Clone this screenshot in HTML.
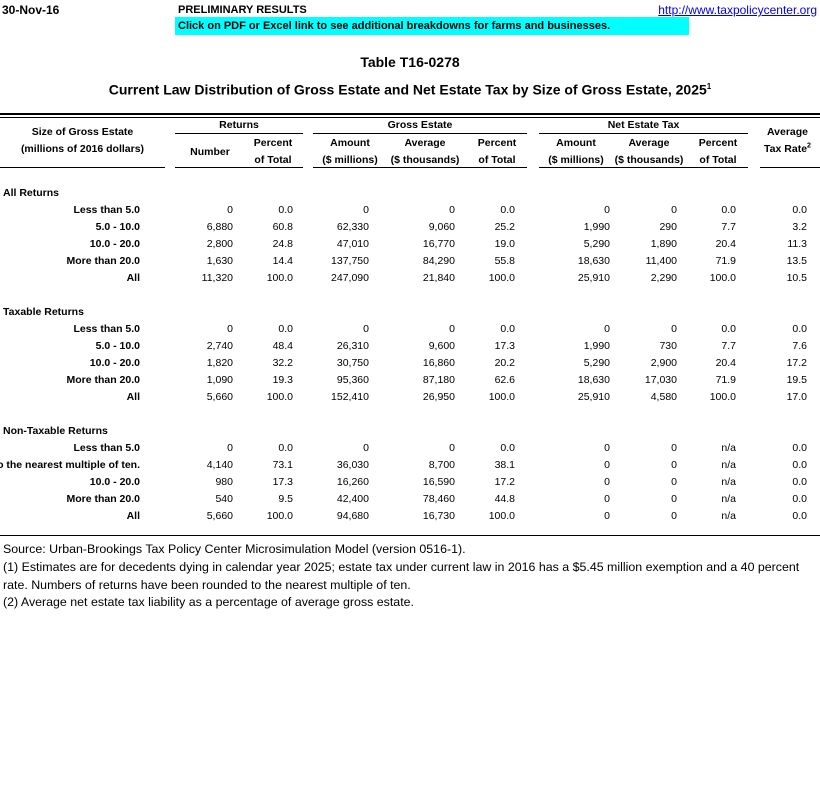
<!DOCTYPE html>
<html><head><meta charset="utf-8"><style>
body{margin:0;width:820px;height:791px;background:#fff;position:relative;font-family:"Liberation Sans",sans-serif;color:#000;overflow:hidden}
.t{position:absolute;white-space:nowrap;line-height:14px}
.b{font-weight:bold}
.r{position:absolute;white-space:nowrap;text-align:right;width:200px;line-height:14px}
.h{position:absolute;height:1px;background:#000}
.row{position:absolute;left:0;width:820px;height:14px;font-size:10.5px}
.row .r{top:0}
.lab{font-weight:bold}
.ch{position:absolute;text-align:center;font-weight:bold;font-size:10.5px;line-height:17px;white-space:nowrap}
.fn{position:absolute;white-space:nowrap;left:3px;font-size:12.4px;line-height:14px}
</style></head><body>
<div class="t b" style="left:2px;top:3px;font-size:12px">30-Nov-16</div>
<div class="t b" style="left:178px;top:3px;font-size:11px">PRELIMINARY RESULTS</div>
<div class="t" style="right:3px;top:3px;font-size:12px;color:#0000ee;text-decoration:underline">http://www.taxpolicycenter.org</div>
<div style="position:absolute;left:175px;top:17px;width:514px;height:18px;background:#00ffff"></div>
<div class="t b" style="left:178px;top:19px;font-size:11px">Click on PDF or Excel link to see additional breakdowns for farms and businesses.</div>
<div class="t b" style="left:0;width:820px;text-align:center;top:55px;font-size:14px">Table T16-0278</div>
<div class="t b" style="left:0;width:820px;text-align:center;top:80px;font-size:14px">Current Law Distribution of Gross Estate and Net Estate Tax by Size of Gross Estate, 2025<sup style="font-size:8px">1</sup></div>

<div class="h" style="left:0;width:820px;top:113px;height:2px"></div>
<div class="h" style="left:0;width:820px;top:117px"></div>

<div class="ch" style="left:0;width:165px;top:124px">Size of Gross Estate<br>(millions of 2016 dollars)</div>
<div class="ch" style="left:175px;width:128px;top:117px">Returns</div>
<div class="ch" style="left:313px;width:214px;top:117px">Gross Estate</div>
<div class="ch" style="left:539px;width:209px;top:117px">Net Estate Tax</div>
<div class="ch" style="left:755px;width:65px;top:124px">Average<br>Tax Rate<sup style="font-size:7px;line-height:0">2</sup></div>
<div class="h" style="left:175px;width:128px;top:133px"></div>
<div class="h" style="left:313px;width:214px;top:133px"></div>
<div class="h" style="left:539px;width:209px;top:133px"></div>
<div class="ch" style="left:175px;width:70px;top:144px">Number</div>
<div class="ch" style="left:243px;width:60px;top:135px">Percent<br>of Total</div>
<div class="ch" style="left:313px;width:74px;top:135px">Amount<br>($ millions)</div>
<div class="ch" style="left:385px;width:80px;top:135px">Average<br>($ thousands)</div>
<div class="ch" style="left:467px;width:60px;top:135px">Percent<br>of Total</div>
<div class="ch" style="left:539px;width:74px;top:135px">Amount<br>($ millions)</div>
<div class="ch" style="left:609px;width:80px;top:135px">Average<br>($ thousands)</div>
<div class="ch" style="left:688px;width:60px;top:135px">Percent<br>of Total</div>
<div class="h" style="left:0;width:165px;top:167px"></div>
<div class="h" style="left:175px;width:128px;top:167px"></div>
<div class="h" style="left:313px;width:214px;top:167px"></div>
<div class="h" style="left:539px;width:209px;top:167px"></div>
<div class="h" style="left:760px;width:60px;top:167px"></div>

<div class="t b" style="left:3px;top:186px;font-size:10.5px">All Returns</div>
<div class="t b" style="left:3px;top:305px;font-size:10.5px">Taxable Returns</div>
<div class="t b" style="left:3px;top:424px;font-size:10.5px">Non-Taxable Returns</div>

<div class="row" style="top:203px"><span class="r lab" style="right:680px">Less than 5.0</span><span class="r" style="right:587px">0</span><span class="r" style="right:527px">0.0</span><span class="r" style="right:451px">0</span><span class="r" style="right:365px">0</span><span class="r" style="right:305px">0.0</span><span class="r" style="right:210px">0</span><span class="r" style="right:143px">0</span><span class="r" style="right:84px">0.0</span><span class="r" style="right:13px">0.0</span></div>
<div class="row" style="top:220px"><span class="r lab" style="right:680px">5.0 - 10.0</span><span class="r" style="right:587px">6,880</span><span class="r" style="right:527px">60.8</span><span class="r" style="right:451px">62,330</span><span class="r" style="right:365px">9,060</span><span class="r" style="right:305px">25.2</span><span class="r" style="right:210px">1,990</span><span class="r" style="right:143px">290</span><span class="r" style="right:84px">7.7</span><span class="r" style="right:13px">3.2</span></div>
<div class="row" style="top:237px"><span class="r lab" style="right:680px">10.0 - 20.0</span><span class="r" style="right:587px">2,800</span><span class="r" style="right:527px">24.8</span><span class="r" style="right:451px">47,010</span><span class="r" style="right:365px">16,770</span><span class="r" style="right:305px">19.0</span><span class="r" style="right:210px">5,290</span><span class="r" style="right:143px">1,890</span><span class="r" style="right:84px">20.4</span><span class="r" style="right:13px">11.3</span></div>
<div class="row" style="top:254px"><span class="r lab" style="right:680px">More than 20.0</span><span class="r" style="right:587px">1,630</span><span class="r" style="right:527px">14.4</span><span class="r" style="right:451px">137,750</span><span class="r" style="right:365px">84,290</span><span class="r" style="right:305px">55.8</span><span class="r" style="right:210px">18,630</span><span class="r" style="right:143px">11,400</span><span class="r" style="right:84px">71.9</span><span class="r" style="right:13px">13.5</span></div>
<div class="row" style="top:271px"><span class="r lab" style="right:680px">All</span><span class="r" style="right:587px">11,320</span><span class="r" style="right:527px">100.0</span><span class="r" style="right:451px">247,090</span><span class="r" style="right:365px">21,840</span><span class="r" style="right:305px">100.0</span><span class="r" style="right:210px">25,910</span><span class="r" style="right:143px">2,290</span><span class="r" style="right:84px">100.0</span><span class="r" style="right:13px">10.5</span></div>

<div class="row" style="top:322px"><span class="r lab" style="right:680px">Less than 5.0</span><span class="r" style="right:587px">0</span><span class="r" style="right:527px">0.0</span><span class="r" style="right:451px">0</span><span class="r" style="right:365px">0</span><span class="r" style="right:305px">0.0</span><span class="r" style="right:210px">0</span><span class="r" style="right:143px">0</span><span class="r" style="right:84px">0.0</span><span class="r" style="right:13px">0.0</span></div>
<div class="row" style="top:339px"><span class="r lab" style="right:680px">5.0 - 10.0</span><span class="r" style="right:587px">2,740</span><span class="r" style="right:527px">48.4</span><span class="r" style="right:451px">26,310</span><span class="r" style="right:365px">9,600</span><span class="r" style="right:305px">17.3</span><span class="r" style="right:210px">1,990</span><span class="r" style="right:143px">730</span><span class="r" style="right:84px">7.7</span><span class="r" style="right:13px">7.6</span></div>
<div class="row" style="top:356px"><span class="r lab" style="right:680px">10.0 - 20.0</span><span class="r" style="right:587px">1,820</span><span class="r" style="right:527px">32.2</span><span class="r" style="right:451px">30,750</span><span class="r" style="right:365px">16,860</span><span class="r" style="right:305px">20.2</span><span class="r" style="right:210px">5,290</span><span class="r" style="right:143px">2,900</span><span class="r" style="right:84px">20.4</span><span class="r" style="right:13px">17.2</span></div>
<div class="row" style="top:373px"><span class="r lab" style="right:680px">More than 20.0</span><span class="r" style="right:587px">1,090</span><span class="r" style="right:527px">19.3</span><span class="r" style="right:451px">95,360</span><span class="r" style="right:365px">87,180</span><span class="r" style="right:305px">62.6</span><span class="r" style="right:210px">18,630</span><span class="r" style="right:143px">17,030</span><span class="r" style="right:84px">71.9</span><span class="r" style="right:13px">19.5</span></div>
<div class="row" style="top:390px"><span class="r lab" style="right:680px">All</span><span class="r" style="right:587px">5,660</span><span class="r" style="right:527px">100.0</span><span class="r" style="right:451px">152,410</span><span class="r" style="right:365px">26,950</span><span class="r" style="right:305px">100.0</span><span class="r" style="right:210px">25,910</span><span class="r" style="right:143px">4,580</span><span class="r" style="right:84px">100.0</span><span class="r" style="right:13px">17.0</span></div>

<div class="row" style="top:441px"><span class="r lab" style="right:680px">Less than 5.0</span><span class="r" style="right:587px">0</span><span class="r" style="right:527px">0.0</span><span class="r" style="right:451px">0</span><span class="r" style="right:365px">0</span><span class="r" style="right:305px">0.0</span><span class="r" style="right:210px">0</span><span class="r" style="right:143px">0</span><span class="r" style="right:84px">n/a</span><span class="r" style="right:13px">0.0</span></div>
<div class="row" style="top:458px"><span class="lab" style="position:absolute;right:680px;width:140px;height:14px;overflow:hidden"><span style="position:absolute;right:0;top:0;white-space:nowrap;line-height:14px">Numbers of returns have been rounded to the nearest multiple of ten.</span></span><span class="r" style="right:587px">4,140</span><span class="r" style="right:527px">73.1</span><span class="r" style="right:451px">36,030</span><span class="r" style="right:365px">8,700</span><span class="r" style="right:305px">38.1</span><span class="r" style="right:210px">0</span><span class="r" style="right:143px">0</span><span class="r" style="right:84px">n/a</span><span class="r" style="right:13px">0.0</span></div>
<div class="row" style="top:475px"><span class="r lab" style="right:680px">10.0 - 20.0</span><span class="r" style="right:587px">980</span><span class="r" style="right:527px">17.3</span><span class="r" style="right:451px">16,260</span><span class="r" style="right:365px">16,590</span><span class="r" style="right:305px">17.2</span><span class="r" style="right:210px">0</span><span class="r" style="right:143px">0</span><span class="r" style="right:84px">n/a</span><span class="r" style="right:13px">0.0</span></div>
<div class="row" style="top:492px"><span class="r lab" style="right:680px">More than 20.0</span><span class="r" style="right:587px">540</span><span class="r" style="right:527px">9.5</span><span class="r" style="right:451px">42,400</span><span class="r" style="right:365px">78,460</span><span class="r" style="right:305px">44.8</span><span class="r" style="right:210px">0</span><span class="r" style="right:143px">0</span><span class="r" style="right:84px">n/a</span><span class="r" style="right:13px">0.0</span></div>
<div class="row" style="top:509px"><span class="r lab" style="right:680px">All</span><span class="r" style="right:587px">5,660</span><span class="r" style="right:527px">100.0</span><span class="r" style="right:451px">94,680</span><span class="r" style="right:365px">16,730</span><span class="r" style="right:305px">100.0</span><span class="r" style="right:210px">0</span><span class="r" style="right:143px">0</span><span class="r" style="right:84px">n/a</span><span class="r" style="right:13px">0.0</span></div>

<div class="h" style="left:0;width:820px;top:535px"></div>
<div class="fn" style="top:542px">Source: Urban-Brookings Tax Policy Center Microsimulation Model (version 0516-1).</div>
<div class="fn" style="top:560px">(1) Estimates are for decedents dying in calendar year 2025; estate tax under current law in 2016 has a $5.45 million exemption and a 40 percent</div>
<div class="fn" style="top:578px">rate. Numbers of returns have been rounded to the nearest multiple of ten.</div>
<div class="fn" style="top:595px">(2) Average net estate tax liability as a percentage of average gross estate.</div>
</body></html>
